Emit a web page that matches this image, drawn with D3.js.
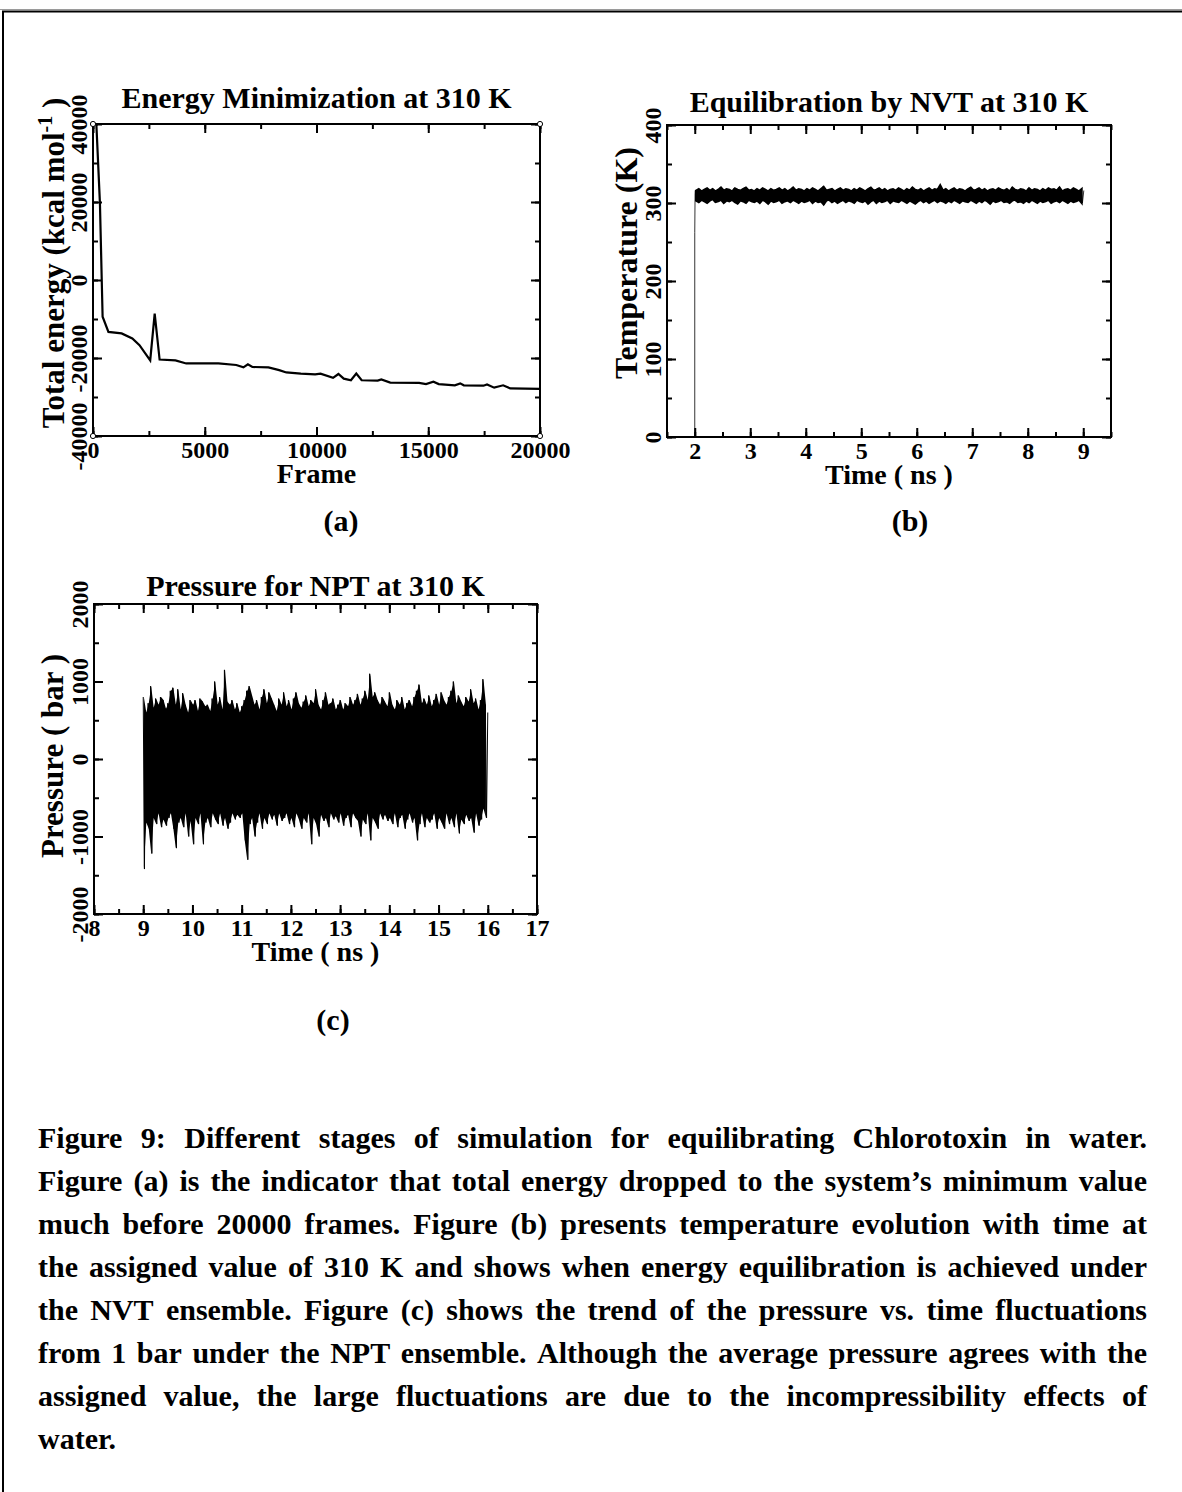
<!DOCTYPE html>
<html>
<head>
<meta charset="utf-8">
<script src="https://cdn.jsdelivr.net/npm/d3@7"></script>
<style>
    body { margin: 0; background: #fff; }
    svg text { font-family: "Liberation Serif", "Times New Roman", serif; font-weight: bold; fill: #000; }
</style>
</head>
<body>
<div id="viz"></div>
<script>

// ---- data ----

// (a) energy minimization, frame vs total energy
var energyFrame = [150, 310, 430, 690, 1280, 1760, 2080, 2560, 2760, 2980, 3690, 4170, 5610, 6410, 6730, 6930, 7130, 7850, 8330, 8650, 9300, 9940, 10180, 10740, 10980, 11220, 11540, 11780, 12020, 12740, 12900, 13300, 14590, 14900, 15230, 15470, 16190, 16430, 16590, 17470, 17630, 17950, 18350, 18670, 20000]
var energyValue = [40000, 19700, -9400, -13300, -13700, -15000, -16700, -20600, -8600, -20400, -20600, -21400, -21400, -21800, -22400, -21600, -22300, -22400, -23100, -23700, -24000, -24200, -24000, -25100, -24100, -25300, -25700, -24000, -25700, -25800, -25500, -26300, -26400, -26700, -26100, -26700, -27000, -26500, -27000, -27100, -26800, -27600, -27000, -27800, -27900]
var energyCorners = [[0, 40000], [20000, 40000], [0, -40000], [20000, -40000]]

// (b) NVT temperature: ramp, then alternating peaks / troughs every 0.05 ns from 2 to 9 ns
var tempRise = [[2.0, 0], [2.0, 262], [2.006, 312]]
var tempStart = 2.01
var tempStep = 0.05
var tempHigh = [
    316, 318, 315, 317, 319, 316, 318, 315, 317, 320,
    316, 318, 317, 315, 319, 317, 316, 318, 320, 316,
    317, 315, 318, 316, 319, 317, 315, 318, 316, 317,
    319, 316, 318, 315, 317, 320, 316, 318, 317, 315,
    318, 316, 319, 317, 315, 318, 321, 316, 317, 318,
    315, 317, 319, 316, 318, 317, 315, 318, 316, 319,
    317, 315, 318, 320, 316, 317, 319, 316, 318, 315,
    317, 318, 316, 319, 317, 315, 318, 316, 320, 317,
    316, 318, 315, 317, 319, 316, 318, 317, 323, 316,
    318, 315, 317, 319, 316, 318, 317, 315, 318, 320,
    316, 317, 319, 316, 318, 315, 317, 318, 316, 319,
    317, 316, 318, 315, 320, 317, 316, 318, 317, 315,
    319, 316, 318, 317, 315, 318, 316, 319, 317, 318,
    316, 320, 315, 317, 318, 316, 319, 317, 315, 318,
    316]
var tempLow = [
    303, 301, 304, 302, 300, 303, 305, 301, 302, 304,
    300, 303, 302, 304, 301, 299, 303, 302, 300, 304,
    302, 301, 303, 300, 304, 302, 299, 303, 301, 302,
    304, 300, 302, 303, 301, 304, 302, 300, 303, 301,
    302, 304, 300, 303, 301, 302, 298, 303, 304, 301,
    303, 300, 302, 304, 301, 303, 302, 300, 304, 302,
    301, 303, 299, 302, 304, 300, 303, 301, 302, 304,
    300, 303, 302, 301, 304, 302, 300, 303, 301, 299,
    302, 304, 301, 303, 300, 302, 304, 301, 303, 302,
    300, 303, 301, 304, 302, 300, 303, 302, 301, 304,
    302, 300, 303, 301, 304, 302, 299, 303, 301, 302,
    304, 301, 302, 300, 303, 304, 301, 302, 300, 303,
    301, 304, 302, 300, 303, 301, 302, 304, 300, 302,
    303, 301, 304, 302, 300, 303, 301, 302, 304, 300]

// (c) NPT pressure: alternating peaks / troughs every 0.05 ns from 9 to 16 ns
var presStart = 9.0
var presStep = 0.05
var presHigh = [
    800, 600, 720, 940, 660, 780, 700, 800, 760, 650,
    720, 880, 920, 700, 900, 640, 850, 700, 600, 760,
    700, 760, 620, 780, 740, 680, 700, 620, 780, 1000,
    700, 800, 640, 1150, 740, 700, 760, 640, 720, 600,
    680, 760, 880, 940, 820, 700, 760, 640, 800, 900,
    720, 860, 780, 700, 620, 780, 700, 860, 680, 760,
    640, 780, 860, 720, 660, 740, 820, 680, 760, 720,
    900, 700, 640, 760, 860, 700, 720, 780, 640, 700,
    760, 640, 720, 680, 800, 700, 760, 840, 700, 780,
    880, 760, 1100, 800, 860, 760, 700, 800, 740, 680,
    860, 700, 640, 760, 700, 800, 640, 720, 760, 680,
    800, 880, 960, 720, 780, 700, 820, 680, 760, 840,
    700, 860, 760, 700, 800, 880, 1000, 720, 820, 740,
    680, 800, 740, 900, 720, 780, 640, 760, 1030, 700,
    600]
var presLow = [
    -1420, -820, -900, -1220, -760, -840, -700, -880, -780, -860,
    -760, -700, -900, -1150, -820, -760, -880, -700, -1000, -800,
    -1100, -760, -840, -700, -1100, -820, -760, -880, -700, -780,
    -840, -700, -860, -760, -900, -820, -700, -780, -720, -760,
    -700, -1050, -1300, -840, -760, -1000, -820, -700, -900, -760,
    -840, -700, -780, -720, -860, -700, -800, -760, -700, -840,
    -760, -880, -700, -780, -900, -760, -820, -700, -1100, -760,
    -840, -1000, -720, -800, -760, -880, -700, -780, -740, -820,
    -700, -860, -760, -720, -880, -700, -760, -800, -1000, -780,
    -840, -700, -1050, -760, -820, -900, -700, -780, -720, -800,
    -760, -840, -700, -880, -760, -720, -900, -780, -700, -820,
    -760, -1050, -840, -700, -880, -760, -820, -780, -700, -900,
    -760, -820, -900, -700, -840, -760, -880, -700, -960, -780,
    -840, -720, -800, -760, -950, -700, -860, -780, -640, -760]

var captionLines = [
    "Figure 9: Different stages of simulation for equilibrating Chlorotoxin in water.",
    "Figure (a) is the indicator that total energy dropped to the system\u2019s minimum value",
    "much before 20000 frames. Figure (b) presents temperature evolution with time at",
    "the assigned value of 310 K and shows when energy equilibration is achieved under",
    "the NVT ensemble.  Figure (c) shows the trend of the pressure vs. time fluctuations",
    "from 1 bar under the NPT ensemble. Although the average pressure agrees with the",
    "assigned value, the large fluctuations are due to the incompressibility effects of",
    "water."
]

// ---- helpers ----

// peaks at t, troughs half a step later
function zigzag(start, step, high, low) {
    var pts = []
    high.forEach(function (h, i) {
        pts.push([start + i * step, h])
        if (i < low.length) pts.push([start + i * step + step / 2, low[i]])
    })
    return pts
}

// peak/trough pairs for the filled body of a noisy trace
function band(start, step, high, low) {
    return low.map((l, i) => ({ t: start + i * step + step / 4, hi: high[i], lo: l }))
}

const width = 1182
const height = 1492

const svg = d3.select("#viz")
    .append("svg")
    .attr("width", width)
    .attr("height", height)

// page border
svg.append("line").attr("x1", 0).attr("x2", width).attr("y1", 9.5).attr("y2", 9.5)
    .attr("stroke", "#9a9a9a").attr("stroke-width", 1)
svg.append("path").attr("d", "M3," + height + "V11.5H" + width)
    .attr("fill", "none").attr("stroke", "black").attr("stroke-width", 2)

function drawPanel(p) {
    var x = d3.scaleLinear().domain(p.xDomain).range([p.left, p.right])
    var y = d3.scaleLinear().domain(p.yDomain).range([p.bottom, p.top])
    var g = svg.append("g")

    function tickAxis(axis, pos, vals, size) {
        var a = g.append("g")
            .attr("transform", pos)
            .call(axis.tickValues(vals).tickSize(-size).tickFormat(""))
        a.select(".domain").remove()
        a.selectAll("line").attr("stroke-width", 2)
        return a
    }

    // minor + mirrored ticks
    tickAxis(d3.axisBottom(x), "translate(0," + p.bottom + ")", p.xMinor, 5)
    tickAxis(d3.axisTop(x), "translate(0," + p.top + ")", p.xMinor, 5)
    tickAxis(d3.axisTop(x), "translate(0," + p.top + ")", p.xMajor, 9)
    tickAxis(d3.axisLeft(y), "translate(" + p.left + ",0)", p.yMinor, 5)
    tickAxis(d3.axisRight(y), "translate(" + p.right + ",0)", p.yMinor, 5)
    tickAxis(d3.axisRight(y), "translate(" + p.right + ",0)", p.yMajor, 9)

    // labelled bottom axis
    var xb = g.append("g")
        .attr("transform", "translate(0," + p.bottom + ")")
        .call(d3.axisBottom(x).tickValues(p.xMajor).tickSize(-9).tickPadding(5).tickFormat(d => String(d)))
    xb.select(".domain").remove()
    xb.selectAll("line").attr("stroke-width", 2)
    xb.selectAll("text").attr("font-size", 24).attr("font-family", null)

    // labelled left axis, rotated labels
    var yl = g.append("g")
        .attr("transform", "translate(" + p.left + ",0)")
        .call(d3.axisLeft(y).tickValues(p.yMajor).tickSize(-9).tickFormat(d => String(d)))
    yl.select(".domain").remove()
    yl.selectAll("line").attr("stroke-width", 2)
    yl.selectAll("text")
        .attr("font-size", 24).attr("font-family", null)
        .attr("x", 0).attr("dy", null)
        .attr("text-anchor", "middle")
        .attr("transform", "translate(-6,0) rotate(-90)")

    // data
    if (p.band) {
        g.append("path")
            .datum(p.band)
            .attr("fill", "black")
            .attr("stroke", "black")
            .attr("stroke-width", p.bandStroke)
            .attr("d", d3.area().x(d => x(d.t)).y0(d => y(d.lo)).y1(d => y(d.hi)))
    }
    var line = d3.line().x(d => x(d[0])).y(d => y(d[1]))
    p.series.forEach(function (s) {
        g.append("path")
            .datum(s)
            .attr("fill", "none")
            .attr("stroke", "black")
            .attr("stroke-width", p.lineWidth)
            .attr("d", line)
    })
    if (p.markers) {
        g.selectAll(".mk")
            .data(p.markers)
            .join("circle")
            .attr("cx", d => x(d[0]))
            .attr("cy", d => y(d[1]))
            .attr("r", 2.6)
            .attr("fill", "white")
            .attr("stroke", "black")
            .attr("stroke-width", 1)
    }

    // frame
    g.append("rect")
        .attr("x", p.left).attr("y", p.top)
        .attr("width", p.right - p.left).attr("height", p.bottom - p.top)
        .attr("fill", "none").attr("stroke", "black").attr("stroke-width", 2)
    if (p.markers) g.selectAll("circle").raise()

    var cx = (p.left + p.right) / 2
    g.append("text").attr("x", cx).attr("y", p.titleY)
        .attr("text-anchor", "middle").attr("font-size", 30).text(p.title)
    g.append("text").attr("x", cx).attr("y", p.bottom + 47)
        .attr("text-anchor", "middle").attr("font-size", 28).text(p.xTitle)
    var yt = g.append("text")
        .attr("transform", "translate(" + p.yTitleX + "," + p.yTitleY + ") rotate(-90)")
        .attr("text-anchor", "middle").attr("font-size", p.yTitleSize)
    yt.append("tspan").text(p.yTitle)
    if (p.yTitleSup) {
        yt.append("tspan").attr("font-size", 20).attr("dy", -12).text(p.yTitleSup)
        yt.append("tspan").attr("dy", 12).text(" )")
    }
    svg.append("text").attr("x", p.tagX).attr("y", p.tagY)
        .attr("text-anchor", "middle").attr("font-size", 30).text(p.tag)
}

drawPanel({
    left: 93, right: 540, top: 124, bottom: 436,
    xDomain: [0, 20000], yDomain: [-40000, 40000],
    xMajor: d3.range(0, 20001, 5000), xMinor: d3.range(0, 20001, 2500),
    yMajor: d3.range(-40000, 40001, 20000), yMinor: d3.range(-40000, 40001, 10000),
    series: [d3.zip(energyFrame, energyValue)], lineWidth: 2.2,
    markers: energyCorners,
    title: "Energy Minimization at 310 K", titleY: 108,
    xTitle: "Frame", yTitle: "Total energy (kcal mol", yTitleSup: "-1",
    yTitleX: 64, yTitleY: 263, yTitleSize: 31,
    tag: "(a)", tagX: 341, tagY: 531
})

drawPanel({
    left: 667, right: 1111, top: 125, bottom: 437,
    xDomain: [1.5, 9.5], yDomain: [0, 400],
    xMajor: d3.range(2, 9.01, 1), xMinor: d3.range(1.5, 9.51, 0.5),
    yMajor: d3.range(0, 401, 100), yMinor: d3.range(0, 401, 50),
    band: band(tempStart, tempStep, tempHigh, tempLow), bandStroke: 2,
    series: [tempRise.concat(zigzag(tempStart, tempStep, tempHigh, tempLow))], lineWidth: 0.8,
    title: "Equilibration by NVT at 310 K", titleY: 112,
    xTitle: "Time ( ns )", yTitle: "Temperature (K)",
    yTitleX: 637, yTitleY: 263, yTitleSize: 32,
    tag: "(b)", tagX: 910, tagY: 531
})

drawPanel({
    left: 94, right: 537, top: 604, bottom: 914,
    xDomain: [8, 17], yDomain: [-2000, 2000],
    xMajor: d3.range(8, 17.01, 1), xMinor: d3.range(8, 17.01, 0.5),
    yMajor: d3.range(-2000, 2001, 1000), yMinor: d3.range(-2000, 2001, 500),
    band: band(presStart, presStep, presHigh, presLow), bandStroke: 0,
    series: [zigzag(presStart, presStep, presHigh, presLow)], lineWidth: 1,
    title: "Pressure for NPT at 310 K", titleY: 596,
    xTitle: "Time ( ns )", yTitle: "Pressure ( bar )",
    yTitleX: 63, yTitleY: 756, yTitleSize: 31,
    tag: "(c)", tagX: 333, tagY: 1030
})

// caption, justified line by line
var capLeft = 38, capRight = 1147, capTop = 1148, capGap = 43, capSize = 30
captionLines.forEach(function (line, i) {
    var yy = capTop + i * capGap
    var words = line.split(/ +/)
    if (i === captionLines.length - 1) {
        svg.append("text").attr("x", capLeft).attr("y", yy).attr("font-size", capSize).text(line)
        return
    }
    var nodes = words.map(w => svg.append("text").attr("y", yy).attr("font-size", capSize).text(w))
    var widths = nodes.map(n => n.node().getComputedTextLength())
    var gap = (capRight - capLeft - d3.sum(widths)) / (words.length - 1)
    var xx = capLeft
    nodes.forEach(function (n, j) {
        n.attr("x", xx)
        xx += widths[j] + gap
    })
})

</script>
</body>
</html>
